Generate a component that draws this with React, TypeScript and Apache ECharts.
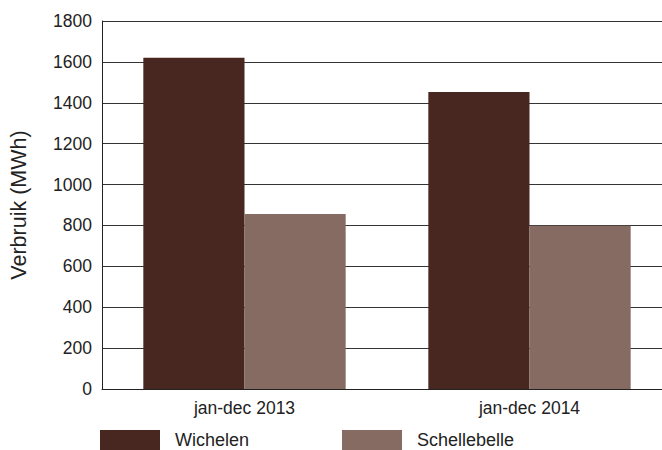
import React, { useEffect, useRef } from "react";
import * as echarts from "echarts";

const categories = ["jan-dec 2013", "jan-dec 2014"];
const wichelen = [1620, 1453];
const schellebelle = [856, 798];
const yTicks = { min: 0, max: 1800, interval: 200 };
const yName = "Verbruik (MWh)";
const seriesNames = ["Wichelen", "Schellebelle"];
const colors = ["#482721", "#866b63"];

const FONT = "'Liberation Sans', Arial, sans-serif";

export default function App() {
  const ref = useRef<HTMLDivElement>(null);
  useEffect(() => {
    if (!ref.current) return;
    const chart = echarts.init(ref.current, null, { renderer: "svg" });
    const legendBase = {
      top: 430,
      padding: 0,
      itemWidth: 60,
      itemHeight: 20,
      icon: "rect",
      textStyle: {
        fontSize: 18,
        lineHeight: 18,
        color: "#222",
        fontFamily: FONT,
        padding: [0, 0, 0, 10],
      },
    };
    chart.setOption({
      animation: false,
      backgroundColor: "#ffffff",
      textStyle: { fontFamily: FONT },
      grid: { left: 100, right: 0, top: 21, bottom: 61, containLabel: false },
      legend: [
        { ...legendBase, data: [seriesNames[0]], left: 100 },
        { ...legendBase, data: [seriesNames[1]], left: 342 },
      ],
      xAxis: {
        type: "category",
        data: categories,
        axisLine: { show: true, lineStyle: { color: "#222", width: 1 } },
        axisTick: { show: false },
        axisLabel: { fontSize: 17.5, color: "#222", margin: 10, fontFamily: FONT },
      },
      yAxis: {
        type: "value",
        min: yTicks.min,
        max: yTicks.max,
        interval: yTicks.interval,
        name: yName,
        nameLocation: "middle",
        nameRotate: 90,
        nameGap: 72,
        nameTextStyle: { fontSize: 21.5, color: "#222", fontFamily: FONT },
        axisLine: { show: true, lineStyle: { color: "#222", width: 1 } },
        axisTick: { show: false },
        axisLabel: {
          fontSize: 17.5,
          color: "#222",
          margin: 10,
          fontFamily: FONT,
          formatter: (v: number) => String(v),
        },
        splitLine: { show: true, lineStyle: { color: "#333", width: 1 } },
      },
      series: [
        {
          name: seriesNames[0],
          type: "bar",
          data: wichelen,
          itemStyle: { color: colors[0] },
          barGap: "0%",
          barCategoryGap: "29%",
        },
        {
          name: seriesNames[1],
          type: "bar",
          data: schellebelle,
          itemStyle: { color: colors[1] },
          barGap: "0%",
          barCategoryGap: "29%",
        },
      ],
    });
    return () => chart.dispose();
  }, []);
  return (
    <div style={{ position: "fixed", left: 0, top: 0, width: 662, height: 450, overflow: "hidden" }}>
      <div ref={ref} style={{ width: 672, height: 450 }} />
    </div>
  );
}
